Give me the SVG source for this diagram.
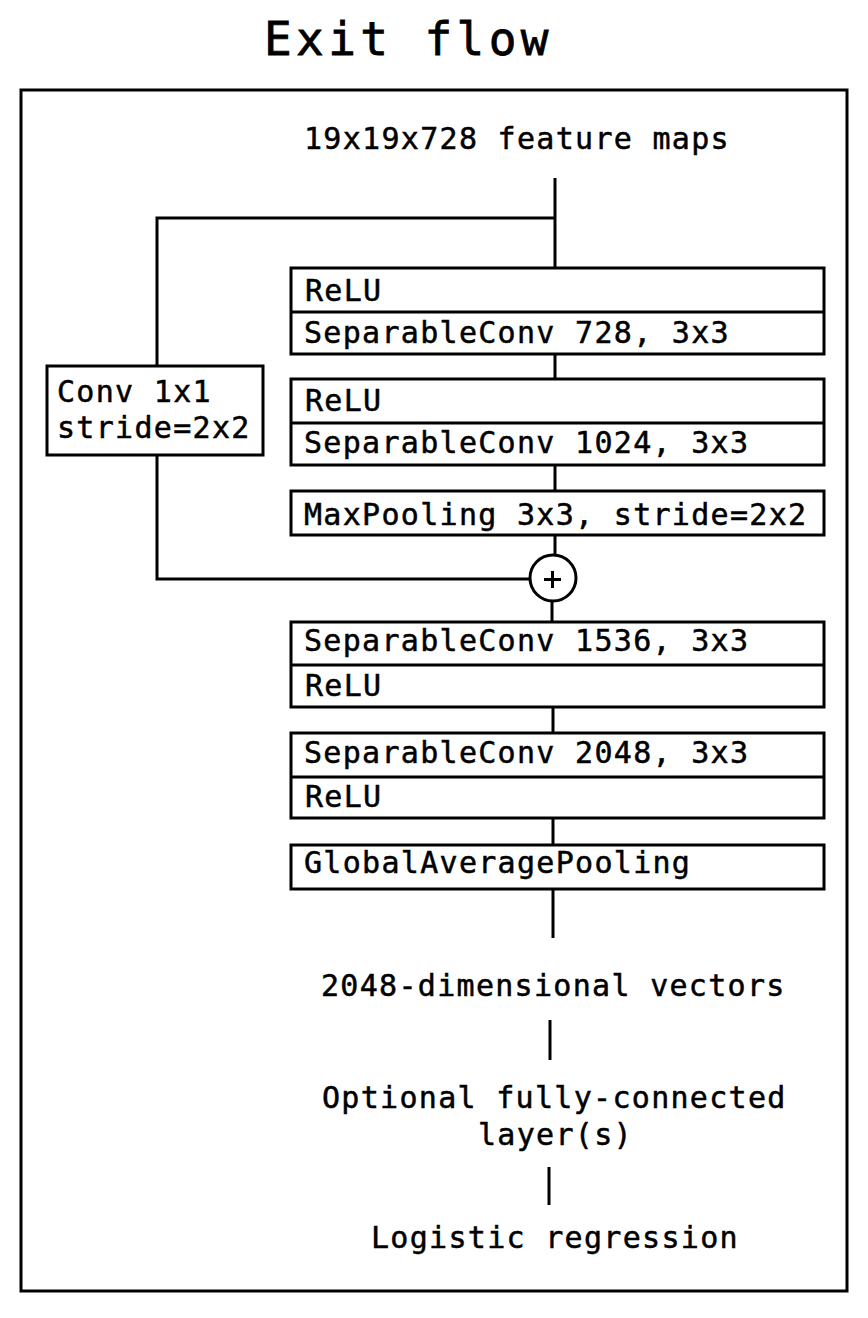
<svg xmlns="http://www.w3.org/2000/svg" width="868" height="1318" viewBox="0 0 868 1318">
<style>
  .t { font-family: "DejaVu Sans Mono", "Liberation Mono", monospace; font-size: 30px; letter-spacing: 1.3px; fill: #000; stroke: #000; stroke-width: 0.5px; }
  .title { font-family: "DejaVu Sans Mono", "Liberation Mono", monospace; font-size: 46px; letter-spacing: 4.4px; fill: #000; stroke: #000; stroke-width: 0.8px; }
  .box { fill: #fff; stroke: #000; stroke-width: 3; }
  .div { stroke: #000; stroke-width: 3; }
  .conn { fill: none; stroke: #000; stroke-width: 3; }
</style>
<rect x="0" y="0" width="868" height="1318" fill="#fff"/>
<text class="title" x="264" y="55">Exit flow</text>
<rect id="frame" x="21" y="90" width="826" height="1201" fill="none" stroke="#000" stroke-width="3"/>

<g id="connectors">
  <path class="conn" d="M555 178 V268"/>
  <path class="conn" d="M555 218 H157 V366"/>
  <path class="conn" d="M157 455 V579 H530"/>
  <path class="conn" d="M555 354 V379"/>
  <path class="conn" d="M555 465 V491"/>
  <path class="conn" d="M555 535 V555"/>
  <path class="conn" d="M552 601 V622"/>
  <path class="conn" d="M553 707 V733"/>
  <path class="conn" d="M553 818 V845"/>
  <path class="conn" d="M553 889 V938"/>
  <path class="conn" d="M550 1020 V1060"/>
  <path class="conn" d="M549 1167 V1205"/>
</g>

<g id="input">
  <text class="t" x="304" y="149">19x19x728 feature maps</text>
</g>

<g id="conv1x1">
  <rect class="box" x="47" y="366" width="216" height="89"/>
  <text class="t" x="57" y="402">Conv 1x1</text>
  <text class="t" x="57" y="438">stride=2x2</text>
</g>

<g id="block1">
  <rect class="box" x="291" y="268" width="533" height="86"/>
  <line class="div" x1="291" y1="312" x2="824" y2="312"/>
  <text class="t" x="305" y="301">ReLU</text>
  <text class="t" x="304" y="343">SeparableConv 728, 3x3</text>
</g>

<g id="block2">
  <rect class="box" x="291" y="379" width="533" height="86"/>
  <line class="div" x1="291" y1="423" x2="824" y2="423"/>
  <text class="t" x="305" y="411">ReLU</text>
  <text class="t" x="304" y="453">SeparableConv 1024, 3x3</text>
</g>

<g id="maxpool">
  <rect class="box" x="291" y="491" width="533" height="44"/>
  <text class="t" x="304" y="525">MaxPooling 3x3, stride=2x2</text>
</g>

<g id="add">
  <circle cx="553" cy="578" r="23" fill="#fff" stroke="#000" stroke-width="3"/>
  <path d="M544 579.5 H561 M552.5 571 V588" stroke="#000" stroke-width="3" fill="none"/>
</g>

<g id="block3">
  <rect class="box" x="291" y="622" width="533" height="85"/>
  <line class="div" x1="291" y1="665" x2="824" y2="665"/>
  <text class="t" x="304" y="651">SeparableConv 1536, 3x3</text>
  <text class="t" x="305" y="696">ReLU</text>
</g>

<g id="block4">
  <rect class="box" x="291" y="733" width="533" height="85"/>
  <line class="div" x1="291" y1="777" x2="824" y2="777"/>
  <text class="t" x="304" y="763">SeparableConv 2048, 3x3</text>
  <text class="t" x="305" y="807">ReLU</text>
</g>

<g id="gap">
  <rect class="box" x="291" y="845" width="533" height="44"/>
  <text class="t" x="304" y="873">GlobalAveragePooling</text>
</g>

<g id="vectors">
  <text class="t" x="321" y="996">2048-dimensional vectors</text>
</g>

<g id="fc">
  <text class="t" x="322" y="1108">Optional fully-connected</text>
  <text class="t" x="478" y="1145">layer(s)</text>
</g>

<g id="logistic">
  <text class="t" x="371" y="1248">Logistic regression</text>
</g>
</svg>
